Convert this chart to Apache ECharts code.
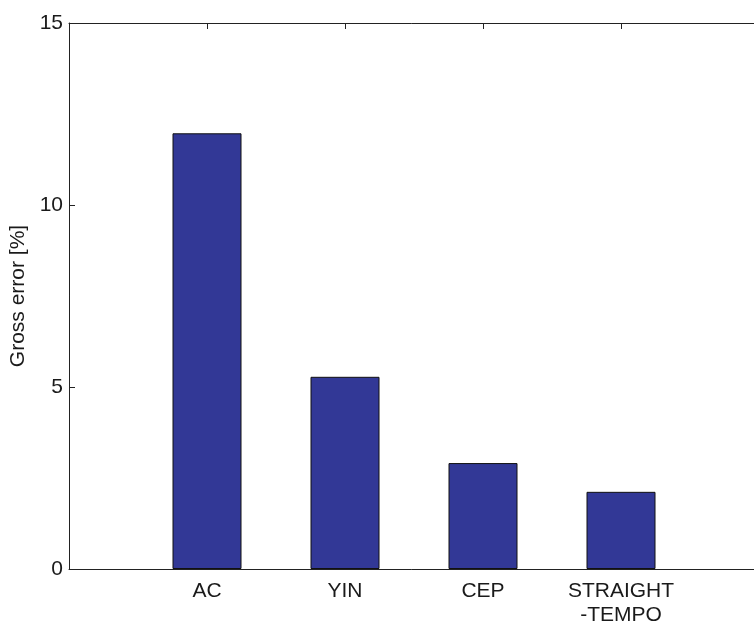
<!DOCTYPE html>
<html>
<head>
<meta charset="utf-8">
<script src="https://cdn.jsdelivr.net/npm/echarts@6/dist/echarts.min.js"></script>
<style>
  html, body { margin: 0; padding: 0; background: #fff; }
  #chart { width: 754px; height: 625px; }
</style>
</head>
<body>
<div id="chart"></div>
<script>
// Pitch-estimation methods and their gross error rates (%)
const categories = ['AC', 'YIN', 'CEP', 'STRAIGHT\n-TEMPO'];
const grossError = [11.97, 5.28, 2.91, 2.12];
const yTicks = [0, 5, 10, 15];

const FONT = 'Liberation Sans, Arial, Helvetica, sans-serif';
const AXIS_COLOR = '#222';
const TEXT_COLOR = '#1a1a1a';

const chart = echarts.init(document.getElementById('chart'));

// bars sit at x = 1..N on a numeric axis running 0..N+1
const barData = grossError.map((v, i) => [i + 1, v]);

chart.setOption({
  animation: false,
  backgroundColor: '#fff',
  grid: {
    left: 69, top: 23, width: 690, height: 546,
    containLabel: false,
    outerBoundsMode: 'none'
  },
  xAxis: [
    {
      type: 'value',
      position: 'bottom',
      min: 0,
      max: categories.length + 1,
      interval: 1,
      splitLine: { show: false },
      axisLine: { show: true, onZero: false, lineStyle: { color: AXIS_COLOR, width: 1 } },
      axisTick: { show: true, inside: true, length: 6, lineStyle: { color: AXIS_COLOR } },
      axisLabel: {
        show: true,
        margin: 10,
        fontFamily: FONT,
        fontSize: 21,
        color: TEXT_COLOR,
        lineHeight: 24,
        verticalAlign: 'top',
        formatter: function (v) {
          const i = Math.round(v) - 1;
          return (i >= 0 && i < categories.length) ? categories[i] : '';
        }
      }
    },
    {
      type: 'value',
      position: 'top',
      min: 0,
      max: categories.length + 1,
      interval: 1,
      splitLine: { show: false },
      axisLine: { show: true, onZero: false, lineStyle: { color: AXIS_COLOR, width: 1 } },
      axisTick: { show: true, inside: true, length: 6, lineStyle: { color: AXIS_COLOR } },
      axisLabel: { show: false }
    }
  ],
  yAxis: {
    type: 'value',
    min: yTicks[0],
    max: yTicks[yTicks.length - 1],
    interval: 5,
    name: 'Gross error [%]',
    nameLocation: 'middle',
    nameGap: 35,
    nameTextStyle: { fontFamily: FONT, fontSize: 21, color: TEXT_COLOR },
    splitLine: { show: false },
    axisLine: { show: true, lineStyle: { color: AXIS_COLOR, width: 1 } },
    axisTick: { show: true, inside: true, length: 6, lineStyle: { color: AXIS_COLOR } },
    axisLabel: { margin: 6, fontFamily: FONT, fontSize: 21, color: TEXT_COLOR }
  },
  series: [
    {
      type: 'bar',
      xAxisIndex: 0,
      data: barData,
      barWidth: 69,
      itemStyle: { color: '#323896', borderColor: '#111', borderWidth: 1 }
    }
  ]
});
</script>
</body>
</html>
